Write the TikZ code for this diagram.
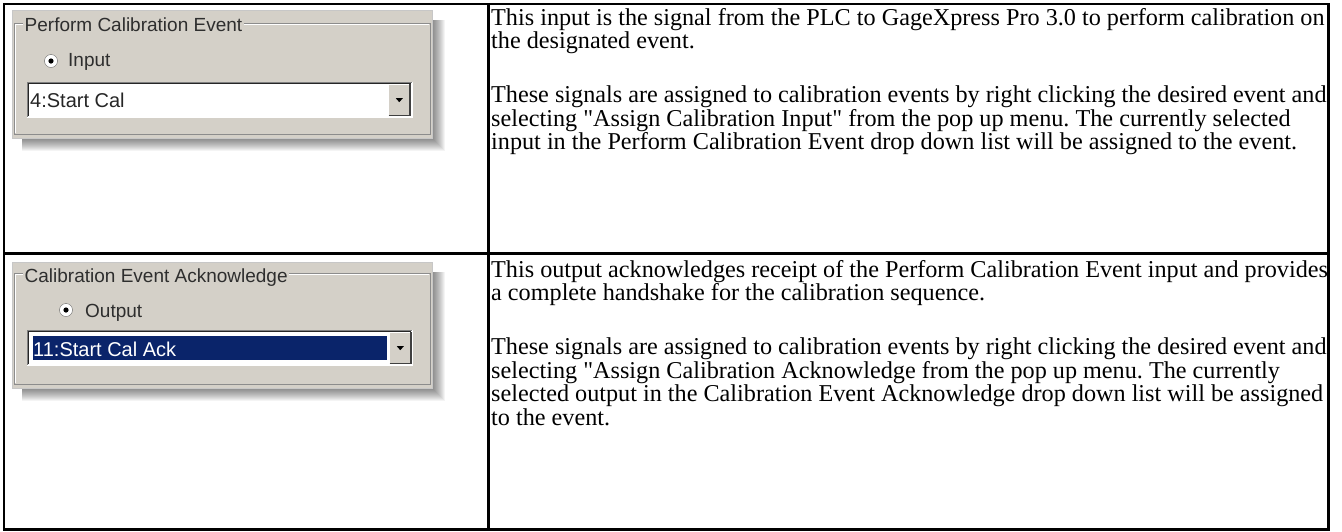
\documentclass[tikz,border=0pt]{standalone}
\usepackage{fontspec}
\setmainfont{Liberation Serif}[Ligatures=TeXOff]
\newfontfamily\uifont{Liberation Sans}
\definecolor{panel}{HTML}{D4D0C8}
\definecolor{uitext}{HTML}{2E2E2E}
\definecolor{selblue}{HTML}{0A246A}
\tikzset{
  desc/.style={anchor=base west, inner sep=0pt, font=\frenchspacing\fontsize{24.2}{24}\selectfont},
  ui/.style={anchor=base west, inner sep=0pt, font=\uifont\fontsize{19}{19}\selectfont, text=uitext},
  uival/.style={anchor=base west, inner sep=0pt, font=\uifont\fontsize{20}{20}\selectfont},
  uititle/.style={ui, fill=panel, inner xsep=1.5pt, inner ysep=1pt},
  radiobox/.style={circle, draw=black!60, fill=white, minimum size=13pt, inner sep=0pt},
  combobox/.style={anchor=north west, fill=white, minimum width=385pt, minimum height=35pt, inner sep=0pt},
  btnbox/.style={anchor=north east, fill=panel, minimum width=21pt, minimum height=31pt, inner sep=0pt},
  grid/.style={line width=2.5pt, black},
}
\begin{document}
\begin{tikzpicture}[x=1pt,y=-1pt]
\useasboundingbox (0,0) rectangle (1342,531);
\fill[white] (0,0) rectangle (1342,531);

% ---------- top screenshot panel ----------
\foreach \k in {1,...,13} \fill[black,opacity=0.045] (22,20) rectangle (432+\k,138+\k);
\fill[panel, draw=black!22] (12,10) rectangle (432,138);
\draw[black!45] (14,134) |- (430,23) |- cycle;
\draw[white] (15,133) |- (429,24);
\node[uititle] (t1) at (23,31) {Perform Calibration Event};
\node[radiobox] (r1) at (51,61) {};
\fill[black] (r1.center) circle (2.6);
\node[ui] (l1) at (68,66) {Input};
\node[combobox] (c1) at (27,82) {};
\draw[black!50] (c1.south west) -- (c1.north west) -- (c1.north east);
\draw[black!85] ([shift={(1,-1)}]c1.south west) -- ([shift={(1,1)}]c1.north west) -- ([shift={(-1,1)}]c1.north east);
\draw[white] (c1.south west) -- (c1.south east) -- (c1.north east);
\node[btnbox] (b1) at (410,84) {};
\draw[white] (b1.south west) -- (b1.north west) -- (b1.north east);
\draw[black!75, line width=1.2pt] (b1.south west) -- (b1.south east) -- (b1.north east);
\fill[black] (b1.center) ++(-3.5,-1.5) -- ++(7,0) -- ++(-3.5,4) -- cycle;
\node[uival, text=black!85] (v1) at (30,107) {4:Start Cal};

% ---------- bottom screenshot panel ----------
\foreach \k in {1,...,13} \fill[black,opacity=0.045] (22,272) rectangle (432+\k,388+\k);
\fill[panel, draw=black!22] (12,262) rectangle (432,388);
\draw[black!45] (14,384) |- (430,273) |- cycle;
\draw[white] (15,383) |- (429,274);
\node[uititle] (t2) at (23,282) {Calibration Event Acknowledge};
\node[radiobox] (r2) at (66,310) {};
\fill[black] (r2.center) circle (2.6);
\node[ui] (l2) at (85,317) {Output};
\node[combobox] (c2) at (27,330) {};
\draw[black!50] (c2.south west) -- (c2.north west) -- (c2.north east);
\draw[black!85] ([shift={(1,-1)}]c2.south west) -- ([shift={(1,1)}]c2.north west) -- ([shift={(-1,1)}]c2.north east);
\draw[white] (c2.south west) -- (c2.south east) -- (c2.north east);
\fill[selblue] (33,336) rectangle (387,360);
\node[btnbox] (b2) at (411,332) {};
\draw[white] (b2.south west) -- (b2.north west) -- (b2.north east);
\draw[black!75, line width=1.2pt] (b2.south west) -- (b2.south east) -- (b2.north east);
\fill[black] (b2.center) ++(-3.5,-1.5) -- ++(7,0) -- ++(-3.5,4) -- cycle;
\node[uival, text=white] (v2) at (33,356) {11:Start Cal Ack};

% ---------- description text ----------
\node[desc] (a1) at (491,25) {This input is the signal from the PLC to GageXpress Pro 3.0 to perform calibration on};
\node[desc] (a2) at (491,48.5) {the designated event.};
\node[desc] (a3) at (491,102.5) {These signals are assigned to calibration events by right clicking the desired event and};
\node[desc] (a4) at (491,126) {selecting "Assign Calibration Input" from the pop up menu. The currently selected};
\node[desc] (a5) at (491,149.5) {input in the Perform Calibration Event drop down list will be assigned to the event.};

\node[desc] (d1) at (491,277) {This output acknowledges receipt of the Perform Calibration Event input and provides};
\node[desc] (d2) at (491,300.5) {a complete handshake for the calibration sequence.};
\node[desc] (d3) at (491,354.5) {These signals are assigned to calibration events by right clicking the desired event and};
\node[desc] (d4) at (491,378) {selecting "Assign Calibration Acknowledge from the pop up menu. The currently};
\node[desc] (d5) at (491,401.5) {selected output in the Calibration Event Acknowledge drop down list will be assigned};
\node[desc] (d6) at (491,425) {to the event.};

% ---------- table grid ----------
\coordinate (tl) at (4,4);
\coordinate (br) at (1328.5,529.5);
\draw[grid] (tl) rectangle (br);
\draw[grid] (488.5,4) -- (488.5,529.5);
\draw[grid] (4,253.5) -- (1328.5,253.5);
\end{tikzpicture}
\end{document}
